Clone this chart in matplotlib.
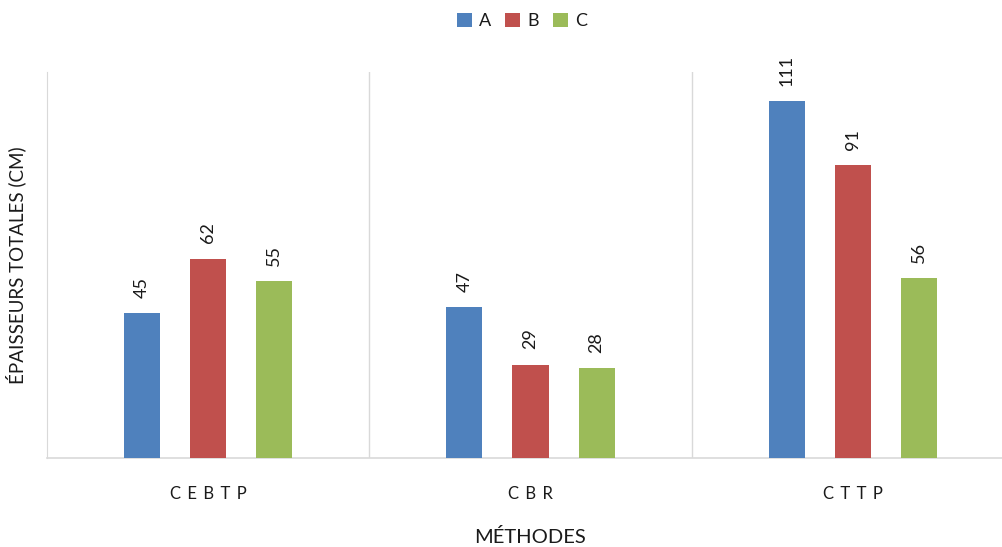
import matplotlib
matplotlib.use("Agg")
import matplotlib.pyplot as plt
import numpy as np

categories = ["C E B T P", "C B R", "C T T P"]
series_names = ["A", "B", "C"]
values_A = [45, 47, 111]
values_B = [62, 29, 91]
values_C = [55, 28, 56]
colors = ["#4F81BD", "#C0504D", "#9BBB59"]

plt.rcParams['font.family'] = ['Lato', 'DejaVu Sans']
text_color = "#1a1a1a"

fig = plt.figure(figsize=(10.02, 5.47), dpi=100)
W, H = 1002, 547
left_px, right_px, bottom_px, top_px = 47, 1014, 458, 72
ax = fig.add_axes([left_px / W, 1 - bottom_px / H, (right_px - left_px) / W, (bottom_px - top_px) / H])

x = np.arange(len(categories))
offsets = [-0.205, 0.0, 0.205]
width = 0.112
for vals, name, off, col in zip([values_A, values_B, values_C], series_names, offsets, colors):
    bars = ax.bar(x + off, vals, width, color=col, label=name, zorder=3)
    for b, v in zip(bars, vals):
        ax.annotate(str(v), (b.get_x() + b.get_width() / 2, v), xytext=(0, 11),
                    textcoords="offset points", rotation=90, ha="center", va="bottom",
                    fontsize=13, color=text_color)

ax.set_xlim(-0.5, 2.5)
ax.set_ylim(0, 120)
ax.set_yticks([])
ax.set_xticks(x)
ax.set_xticklabels([c.replace(" ", " \u2009") for c in categories], fontsize=12, color=text_color)
ax.tick_params(axis='x', length=0, pad=20)
for b in [0.5, 1.5]:
    ax.axvline(b, color="#D9D9D9", lw=1, zorder=1)
for s in ["top", "right"]:
    ax.spines[s].set_visible(False)
ax.spines["left"].set_color("#D9D9D9")
ax.spines["bottom"].set_color("#D9D9D9")
ax.spines["bottom"].set_linewidth(1.2)

ax.set_ylabel("ÉPAISSEURS TOTALES (CM)", fontsize=13.5, color=text_color, labelpad=15)
fig.text(530 / W, 1 - 537 / H, "MÉTHODES", fontsize=14.5, color=text_color,
         ha="center", va="center")

fig.legend(loc="center", bbox_to_anchor=(522 / W, 1 - 21 / H), ncol=3, frameon=False,
           fontsize=13, handlelength=0.8, handleheight=0.8, columnspacing=0.8,
           handletextpad=0.4, labelcolor=text_color, borderpad=0)

fig.savefig("out.png", dpi=100)
